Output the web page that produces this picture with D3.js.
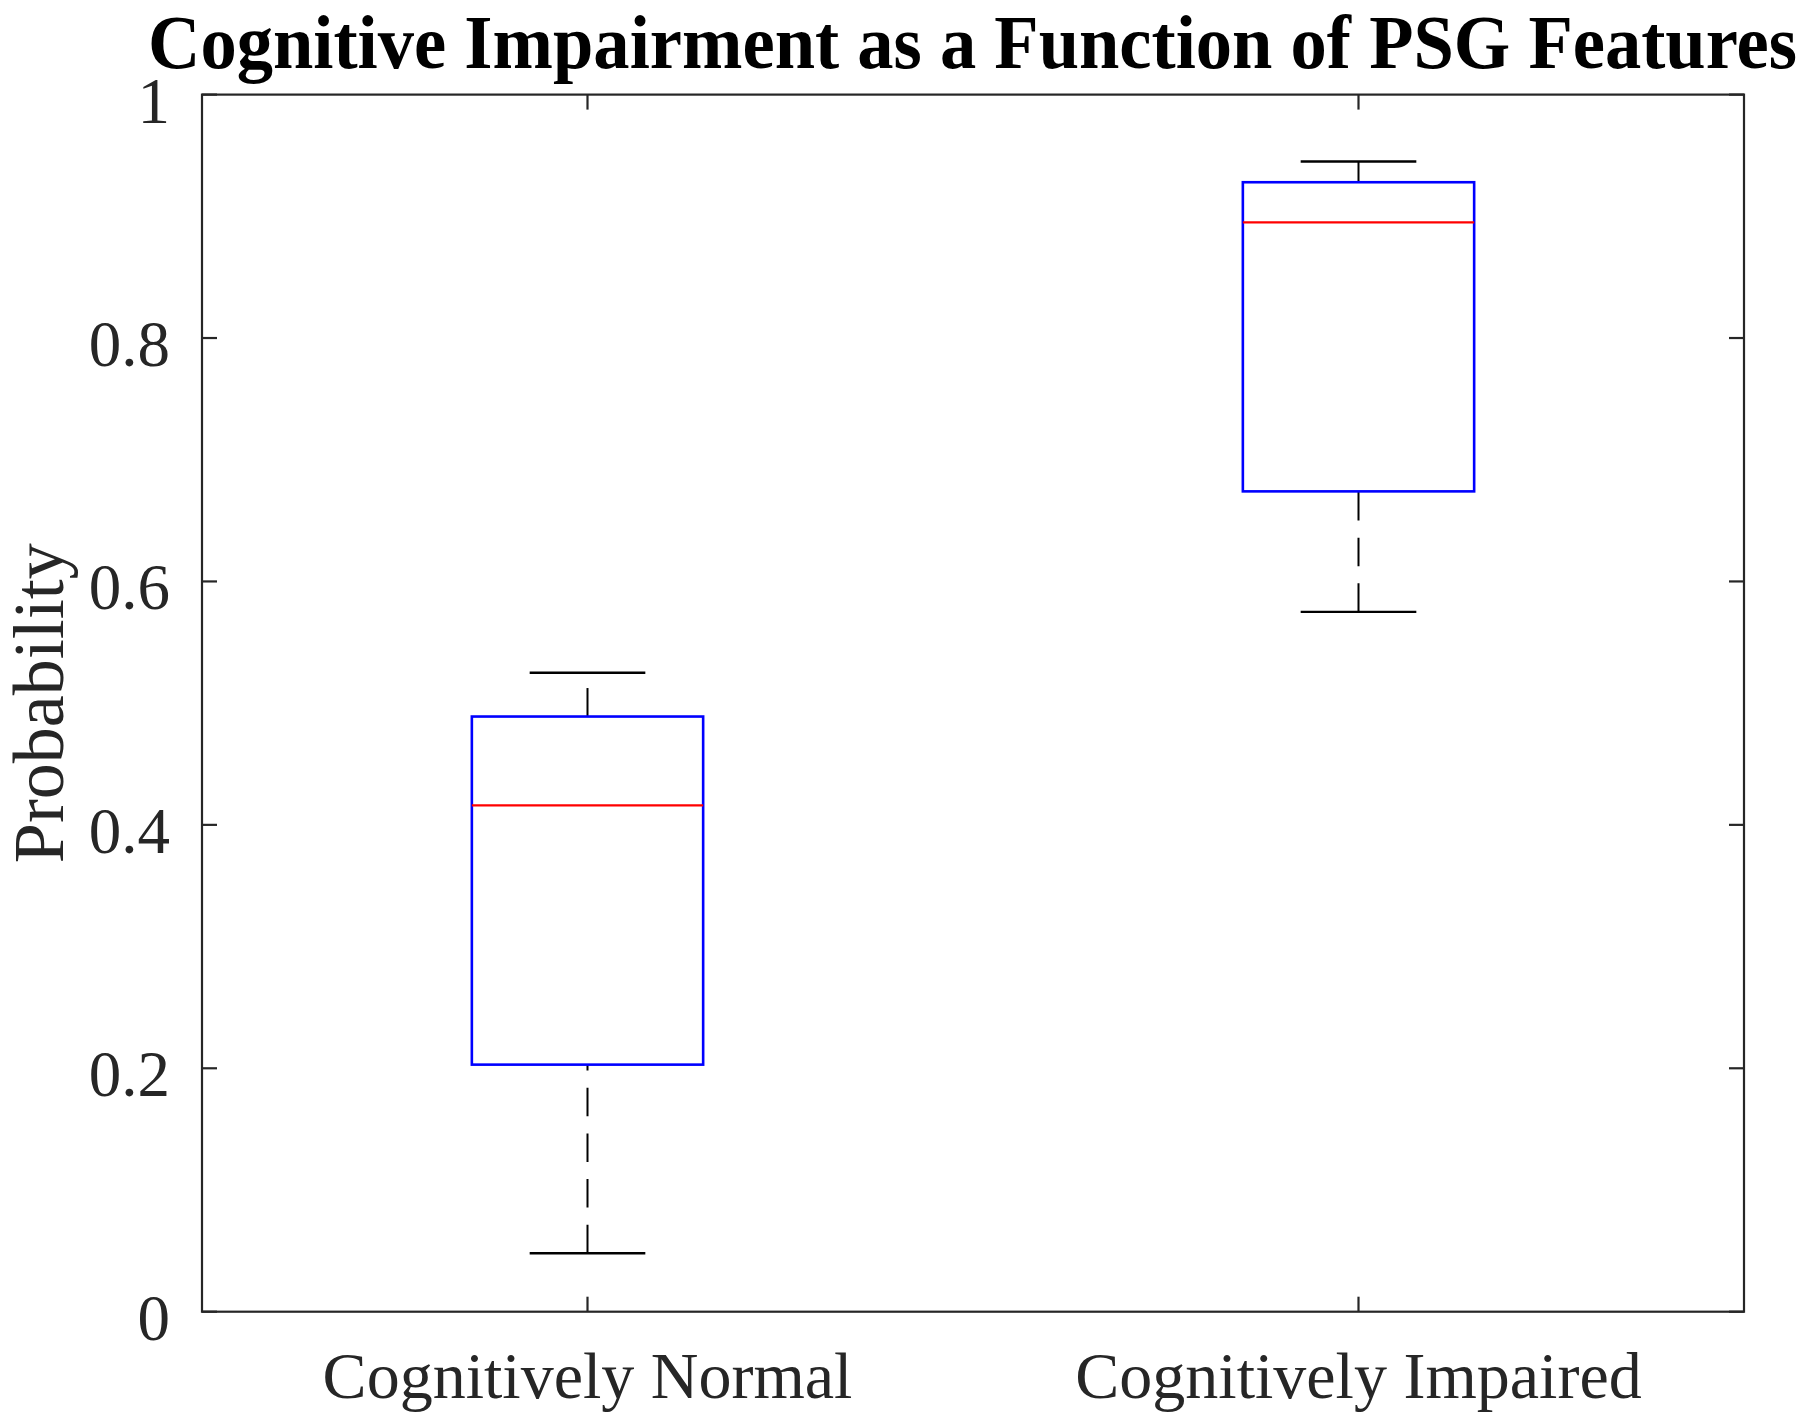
<!DOCTYPE html>
<html>
<head>
<meta charset="utf-8">
<script src="https://cdn.jsdelivr.net/npm/d3@7"></script>
<style>
  html, body { margin: 0; padding: 0; background: #fff; }
  svg { display: block; }
</style>
</head>
<body>
<script>
// values
const categories = ['Cognitively Normal', 'Cognitively Impaired'];
const whiskerLow = [0.048, 0.575];
const q1 = [0.203, 0.674];
const median = [0.416, 0.895];
const q3 = [0.489, 0.928];
const whiskerHigh = [0.525, 0.945];
const yTicks = [0, 0.2, 0.4, 0.6, 0.8, 1];

const W = 1808, H = 1425;
const plot = { left: 202, right: 1744, top: 94.6, bottom: 1311.7 };
const FONT = '"Liberation Serif", "Times New Roman", Times, serif';

const svg = d3.select('body').append('svg')
  .attr('width', W).attr('height', H)
  .style('font-family', FONT);

const x = d3.scaleLinear().domain([0.5, categories.length + 0.5]).range([plot.left, plot.right]);
const y = d3.scaleLinear().domain([0, 1]).range([plot.bottom, plot.top]);

const boxHalf = 0.15, capHalf = 0.075, tickLen = 15;

const rows = categories.map((c, i) => ({
  name: c, pos: i + 1,
  lo: whiskerLow[i], q1: q1[i], med: median[i], q3: q3[i], hi: whiskerHigh[i]
}));

// frame
svg.append('rect')
  .attr('x', plot.left).attr('y', plot.top)
  .attr('width', plot.right - plot.left).attr('height', plot.bottom - plot.top)
  .attr('fill', 'none').attr('stroke', '#262626').attr('stroke-width', 2.2);

// y ticks, left and right, pointing in
const yt = svg.append('g').attr('stroke', '#262626').attr('stroke-width', 2.2);
yTicks.forEach(t => {
  yt.append('line').attr('x1', plot.left).attr('x2', plot.left + tickLen).attr('y1', y(t)).attr('y2', y(t));
  yt.append('line').attr('x1', plot.right).attr('x2', plot.right - tickLen).attr('y1', y(t)).attr('y2', y(t));
});
svg.append('g').selectAll('text').data(yTicks).join('text')
  .attr('x', 170).attr('y', d => y(d) + 28)
  .attr('text-anchor', 'end')
  .attr('font-size', 65).attr('fill', '#262626')
  .text(d => d3.format('~g')(d));

// x ticks, top and bottom
const xt = svg.append('g').attr('stroke', '#262626').attr('stroke-width', 2.2);
rows.forEach(r => {
  xt.append('line').attr('x1', x(r.pos)).attr('x2', x(r.pos)).attr('y1', plot.bottom).attr('y2', plot.bottom - tickLen);
  xt.append('line').attr('x1', x(r.pos)).attr('x2', x(r.pos)).attr('y1', plot.top).attr('y2', plot.top + tickLen);
});
svg.append('g').selectAll('text').data(rows).join('text')
  .attr('x', d => x(d.pos)).attr('y', 1398)
  .attr('text-anchor', 'middle')
  .attr('font-size', 66).attr('fill', '#262626')
  .text(d => d.name);

// boxes
const g = svg.append('g').selectAll('g').data(rows).join('g');

// whiskers (dashed), drawn upward from the lower value
const dash = '28.5,17.2';
g.append('line')
  .attr('x1', d => x(d.pos)).attr('x2', d => x(d.pos))
  .attr('y1', d => y(d.lo)).attr('y2', d => y(d.q1))
  .attr('stroke', '#000').attr('stroke-width', 2).attr('stroke-dasharray', dash);
g.append('line')
  .attr('x1', d => x(d.pos)).attr('x2', d => x(d.pos))
  .attr('y1', d => y(d.q3)).attr('y2', d => y(d.hi))
  .attr('stroke', '#000').attr('stroke-width', 2).attr('stroke-dasharray', dash);

// caps
['lo', 'hi'].forEach(k => {
  g.append('line')
    .attr('x1', d => x(d.pos - capHalf)).attr('x2', d => x(d.pos + capHalf))
    .attr('y1', d => y(d[k])).attr('y2', d => y(d[k]))
    .attr('stroke', '#000').attr('stroke-width', 2.4);
});

g.append('rect')
  .attr('x', d => x(d.pos - boxHalf))
  .attr('y', d => y(d.q3))
  .attr('width', d => x(d.pos + boxHalf) - x(d.pos - boxHalf))
  .attr('height', d => y(d.q1) - y(d.q3))
  .attr('fill', 'none').attr('stroke', '#0000ff').attr('stroke-width', 2.6);

g.append('line')
  .attr('x1', d => x(d.pos - boxHalf)).attr('x2', d => x(d.pos + boxHalf))
  .attr('y1', d => y(d.med)).attr('y2', d => y(d.med))
  .attr('stroke', '#ff0000').attr('stroke-width', 2.4);

// labels
svg.append('text')
  .attr('transform', `translate(63,${(plot.top + plot.bottom) / 2}) rotate(-90)`)
  .attr('text-anchor', 'middle')
  .attr('font-size', 72).attr('fill', '#262626')
  .text('Probability');

svg.append('text')
  .attr('x', (148 + 1797) / 2).attr('y', 68)
  .attr('text-anchor', 'middle')
  .attr('font-size', 76).attr('font-weight', 'bold').attr('fill', '#000')
  .attr('textLength', 1649).attr('lengthAdjust', 'spacingAndGlyphs')
  .text('Cognitive Impairment as a Function of PSG Features');
</script>
</body>
</html>
